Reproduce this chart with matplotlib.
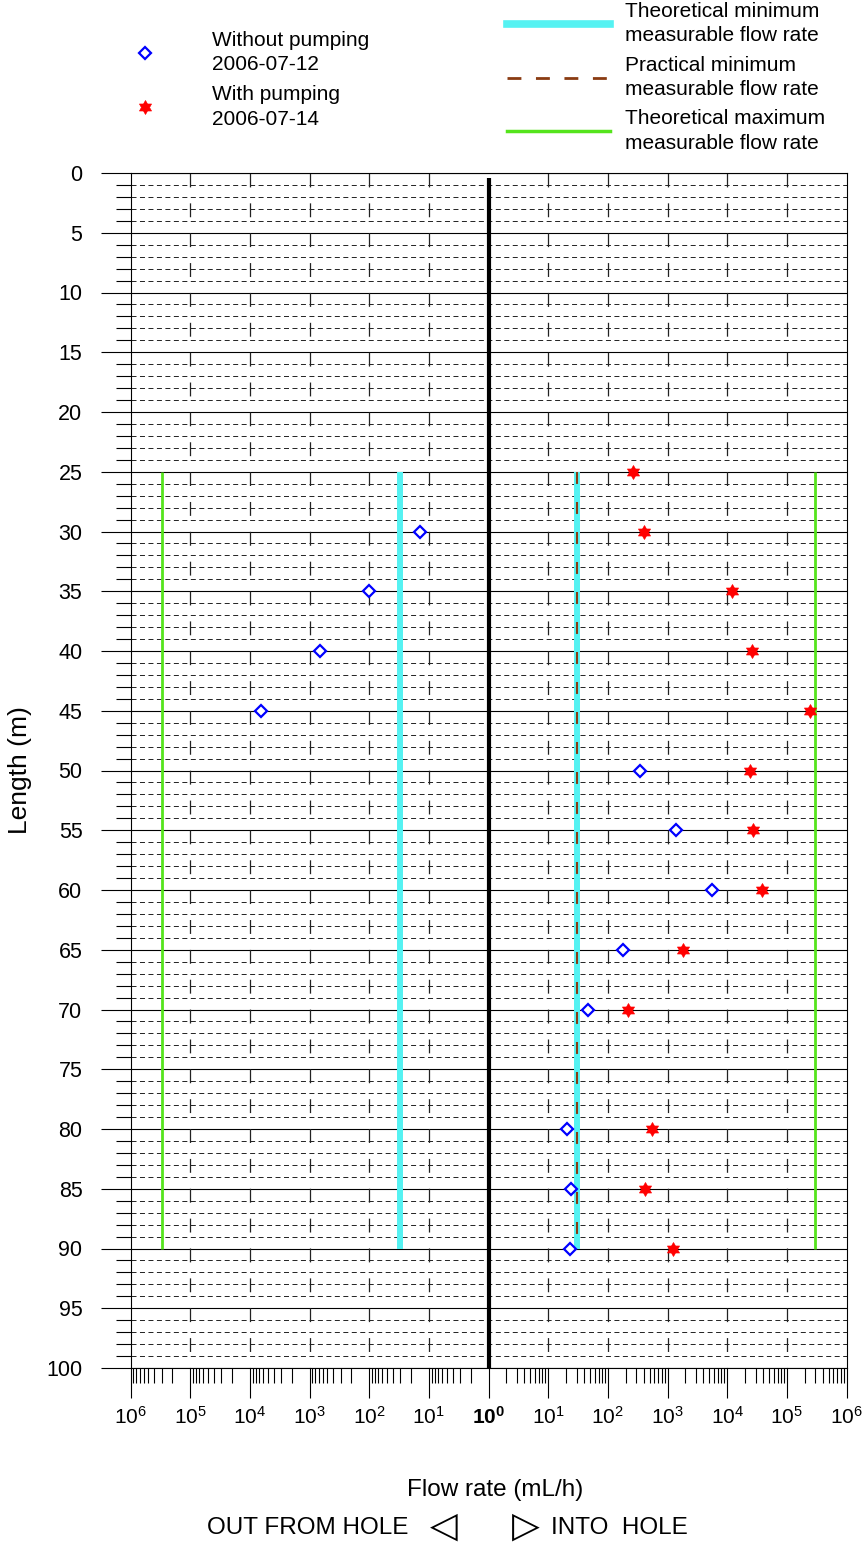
import numpy as np
import matplotlib
matplotlib.use('Agg')
import matplotlib.pyplot as plt
from matplotlib.path import Path
from matplotlib.lines import Line2D
from matplotlib.ticker import FixedLocator, FixedFormatter

plt.rcParams['font.family'] = ['Liberation Sans', 'DejaVu Sans']
plt.rcParams['mathtext.fontset'] = 'custom'
plt.rcParams['mathtext.rm'] = 'Liberation Sans'
plt.rcParams['mathtext.bf'] = 'Liberation Sans:bold'
plt.rcParams['lines.scale_dashes'] = False

# flow rates in mL/h, negative = out from hole, positive = into hole
depth_nopump = [30, 35, 40, 45, 50, 55, 60, 65, 70, 80, 85, 90]
flow_nopump = [-14, -100, -670, -6600, 350, 1400, 5500, 182, 46, 21, 24, 23]

depth_pump = [25, 30, 35, 40, 45, 50, 55, 60, 65, 70, 80, 85, 90]
flow_pump = [265, 400, 12000, 26000, 247000, 24500, 27500, 38500, 1850, 222, 550, 425, 1220]

# measurement limits, drawn over the tested section
limit_depth = [25, 90]
theo_min = 30
prac_min = 30
theo_max = 300000

decades = [1, 2, 3, 4, 5, 6]
depth_ticks = list(range(0, 101, 5))


def fwd(x):
    x = np.asarray(x, dtype=float)
    return np.sign(x) * np.log10(np.maximum(np.abs(x), 1.0))


def inv(u):
    u = np.asarray(u, dtype=float)
    return np.sign(u) * 10.0 ** np.abs(u)


fig = plt.figure(figsize=(8.63, 15.45), dpi=100)
ax = fig.add_axes([130.5 / 863, 1 - 1368 / 1545, 716 / 863, 1195 / 1545])
ax.set_xscale('function', functions=(fwd, inv))
ax.set_xlim(-1e6, 1e6)
ax.set_ylim(100, 0)

# x ticks: mirrored decades
major = [-10.0 ** d for d in decades[::-1]] + [1.0] + [10.0 ** d for d in decades]
labels = [r'$\mathregular{10^{%d}}$' % d for d in decades[::-1]] + [r'$\mathbf{10^{0}}$'] + \
         [r'$\mathregular{10^{%d}}$' % d for d in decades]
minor = []
for n in range(6):
    for k in range(2, 10):
        minor += [k * 10.0 ** n, -k * 10.0 ** n]
ax.xaxis.set_major_locator(FixedLocator(major))
ax.xaxis.set_major_formatter(FixedFormatter(labels))
ax.xaxis.set_minor_locator(FixedLocator(sorted(minor)))
ax.tick_params(axis='x', which='major', length=21.6, width=0.8, pad=6, labelsize=15)
ax.tick_params(axis='x', which='minor', length=10.8, width=0.8)

ax.yaxis.set_major_locator(FixedLocator(depth_ticks))
ax.yaxis.set_minor_locator(FixedLocator(list(range(0, 101))))
ax.tick_params(axis='y', which='major', length=21.6, width=0.8, pad=13, labelsize=15.5)
ax.tick_params(axis='y', which='minor', length=10.8, width=0.8)

ax.yaxis.grid(True, which='major', color='black', lw=0.8, ls='-')
ax.yaxis.grid(True, which='minor', color='#222222', lw=0.7, ls=(0, (3.6, 2.5)))

# dashed decade marks
marks = [s * 10.0 ** d for d in decades[:-1] for s in (-1, 1)]
ax.vlines(marks, 0, 100, colors='#222222', linewidths=0.9,
          linestyles=[(0, (10.0, 11.5))], zorder=1.6)

for sp in ax.spines.values():
    sp.set_linewidth(0.8)

# centre line
ax.vlines([1], 0.4, 100.1, colors='black', linewidths=3.0, zorder=3)

cyan = '#55f2f2'
green = '#55e41c'
brown = '#8a3b12'
ax.vlines([-theo_min, theo_min], *limit_depth, colors=cyan, linewidths=4.3, zorder=2)
ax.vlines([prac_min], *limit_depth, colors=brown, linewidths=1.5,
          linestyles=[(0, (8.6, 13))], zorder=2.5)
ax.vlines([-theo_max, theo_max], *limit_depth, colors=green, linewidths=2.0, zorder=2)

star6 = Path.unit_regular_star(6, 0.577)
ax.plot(flow_nopump, depth_nopump, ls='none', marker='D', ms=5.8, mfc='white',
        mec='#0000ff', mew=1.6, zorder=4)
ax.plot(flow_pump, depth_pump, ls='none', marker=star6, ms=10, mfc='red',
        mec='red', mew=0.5, zorder=4)

ax.set_ylabel('Length (m)', fontsize=19, labelpad=10)

fig.text(495 / 863, 1 - 1490 / 1545, 'Flow rate (mL/h)', fontsize=17.5, ha='center', va='center')
fig.text(408 / 863, 1 - 1528 / 1545, 'OUT FROM HOLE', fontsize=17.5, ha='right', va='center')
fig.text(444 / 863, 1 - 1527 / 1545, '\u25c1', fontsize=26, ha='center', va='center',
         family=['DejaVu Sans'])
fig.text(526 / 863, 1 - 1527 / 1545, '\u25b7', fontsize=26, ha='center', va='center',
         family=['DejaVu Sans'])
fig.text(551 / 863, 1 - 1528 / 1545, 'INTO  HOLE', fontsize=17.5, ha='left', va='center')

# legends
h1 = [Line2D([], [], ls='none', marker='D', ms=5.8, mfc='white', mec='#0000ff', mew=1.6),
      Line2D([], [], ls='none', marker=star6, ms=10, mfc='red', mec='red', mew=0.5)]
leg1 = fig.legend(h1, ['Without pumping\n2006-07-12', 'With pumping\n2006-07-14'],
                  loc='upper left', bbox_to_anchor=(134.6 / 863, 1 - 31 / 1545),
                  frameon=False, fontsize=15, handlelength=1.0, handletextpad=2.7,
                  borderpad=0, borderaxespad=0, labelspacing=0.53)

h2 = [Line2D([], [], color=cyan, lw=5.5),
      Line2D([], [], color=brown, lw=2.0, ls=(0, (10, 10.5))),
      Line2D([], [], color=green, lw=2.5)]
leg2 = fig.legend(h2, ['Theoretical minimum\nmeasurable flow rate',
                       'Practical minimum\nmeasurable flow rate',
                       'Theoretical maximum\nmeasurable flow rate'],
                  loc='upper left', bbox_to_anchor=(507 / 863, 1 - 2 / 1545),
                  frameon=False, fontsize=15, handlelength=4.94, handletextpad=0.72,
                  borderpad=0, borderaxespad=0, labelspacing=0.5)
for leg in (leg1, leg2):
    for t in leg.get_texts():
        t.set_linespacing(1.35)

fig.savefig('out.png', dpi=100)
